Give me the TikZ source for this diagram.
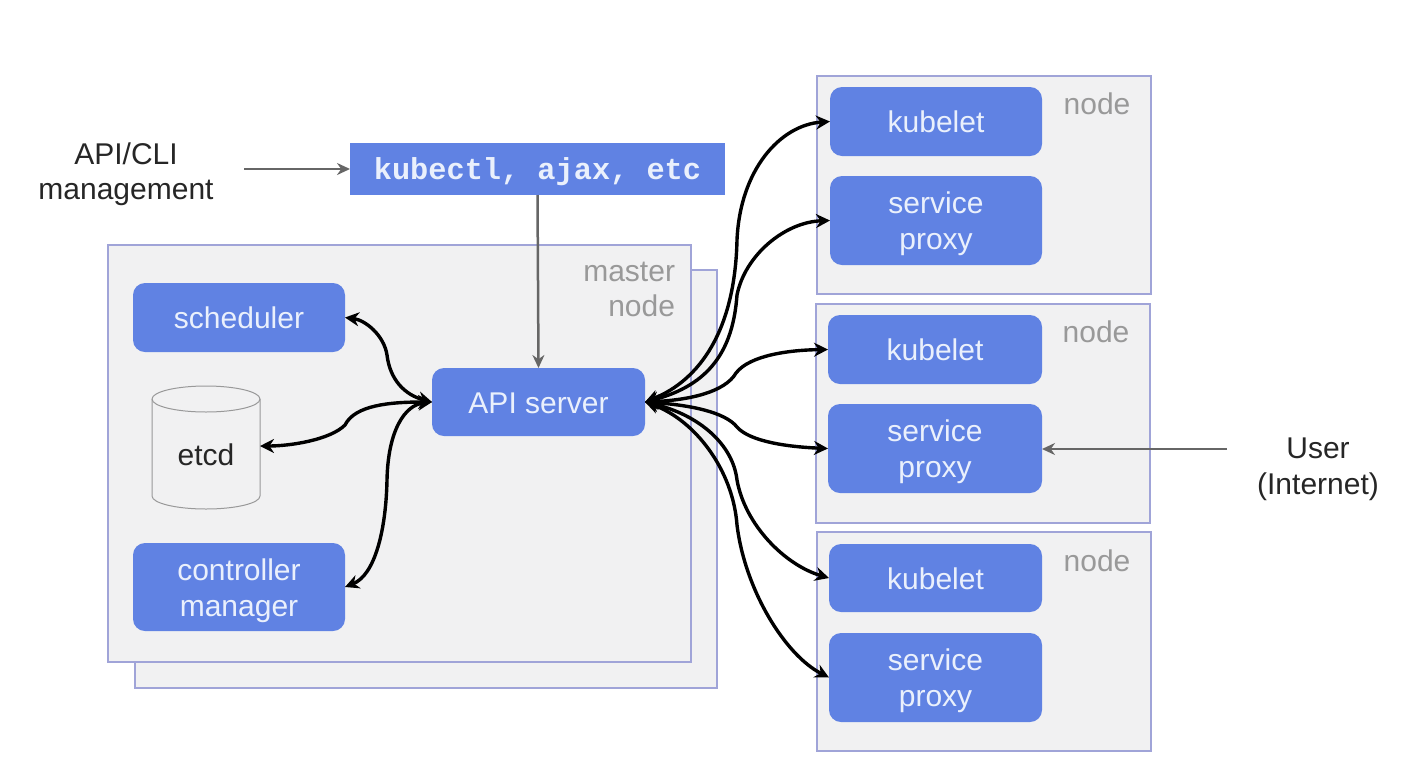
\documentclass[tikz,border=0pt]{standalone}
\usepackage{fontspec}
\setmainfont{Liberation Sans}
\newfontfamily\codefont{Liberation Mono}
\usetikzlibrary{arrows.meta}
\definecolor{boxblue}{HTML}{6082E3}
\definecolor{panel}{HTML}{F1F1F2}
\definecolor{panelline}{HTML}{A0A4D8}
\definecolor{labelgray}{HTML}{999999}
\definecolor{softwhite}{HTML}{EAF0FC}
\definecolor{graylink}{HTML}{666666}
\tikzset{
  every node/.style={inner sep=0pt,outer sep=0pt},
  panelbox/.style={draw=panelline,fill=panel,line width=1.1pt},
  bluebox/.style={fill=boxblue,rounded corners=12pt,text=softwhite,align=center,font=\fontsize{30}{36}\selectfont},
  plain/.style={align=center,text=black!85,font=\fontsize{30}{35.5}\selectfont},
  graytext/.style={text=labelgray,font=\fontsize{30}{35}\selectfont},
  graylinkstyle/.style={draw=graylink,line width=2.5pt,-{Stealth[length=13pt,width=12pt]}},
  curve/.style={draw=black,line width=3.4pt,{Stealth[length=14pt,width=14pt]}-{Stealth[length=14pt,width=14pt]}},
}
\newcommand{\boxat}[6]{\node[#2,minimum width=#5pt-#3pt,minimum height=#6pt-#4pt,anchor=north west] (#1) at (#3,#4) {};}
\newcommand{\blueat}[6]{\node[bluebox,minimum width=#4pt-#2pt,minimum height=#5pt-#3pt,anchor=center] (#1) at ({(#2+#4)/2},{(#3+#5)/2}) {\raisebox{-4pt}[\height][\depth]{\begin{tabular}{@{}c@{}}#6\end{tabular}}};}
\begin{document}
\begin{tikzpicture}[x=1pt,y=-1pt]
\useasboundingbox (0,0) rectangle (1406,772);
% containers
\boxat{masterback}{panelbox}{135}{270}{717}{688}
\boxat{masterfront}{panelbox}{108}{245}{691}{662}
\boxat{nodeA}{panelbox}{817}{76}{1151}{294}
\boxat{nodeB}{panelbox}{816}{304}{1150}{523}
\boxat{nodeC}{panelbox}{817}{532}{1151}{751}
% blue boxes
\blueat{kubA}{830}{87}{1042}{156}{kubelet}
\blueat{proxA}{830}{176}{1042}{265}{service\\proxy}
\blueat{kubB}{828}{315}{1042}{384}{kubelet}
\blueat{proxB}{828}{404}{1042}{493}{service\\proxy}
\blueat{kubC}{829}{544}{1042}{612}{kubelet}
\blueat{proxC}{829}{633}{1042}{722}{service\\proxy}
\blueat{sched}{133}{283}{345}{352}{scheduler}
\blueat{ctrl}{133}{543}{345}{631}{controller\\manager}
\blueat{api}{432}{368}{645}{436}{API server}
\node[fill=boxblue,text=softwhite,minimum width=375pt,minimum height=52pt,anchor=north west,font=\codefont\bfseries\fontsize{30.3}{36}\selectfont] (kubectl) at (350,143) {\raisebox{-3pt}[\height][\depth]{kubectl, ajax, etc}};
% etcd cylinder
\draw[draw=black!40,fill=panel,line width=1pt] (152,399) -- (152,496) arc[x radius=54,y radius=13,start angle=180,end angle=0] -- (260,399) arc[x radius=54,y radius=13,start angle=0,end angle=-180] -- cycle;
\draw[draw=black!40,line width=1pt] (152,399) arc[x radius=54,y radius=13,start angle=180,end angle=0];
\node[minimum width=108pt,minimum height=90pt] (etcd) at (206,446) {};
\node[text=black!85,font=\fontsize{30}{35}\selectfont] (etcdtext) at (206,455) {etcd};
% plain labels
\node[plain] (apicli) at (126,174) {API/CLI\\management};
\node[plain] (user) at (1318,469.5) {User\\(Internet)};
\node[graytext,align=right,anchor=east] (masterlabel) at (675,289) {master\\node};
\node[graytext] (nA) at (1097,104) {node};
\node[graytext] (nB) at (1096,332) {node};
\node[graytext] (nC) at (1097,561) {node};
% gray links
\coordinate (apicliend) at (244,169);
\coordinate (userend) at (1227,449);
\draw[graylinkstyle] (apicliend) -- (kubectl.west |- apicliend);
\draw[graylinkstyle] (kubectl.south) -- (api.north);
\draw[graylinkstyle] (userend) -- (proxB.east |- userend);
% curves right
\draw[curve] (api.east) .. controls (700,380) and (735,330) .. (737,240) .. controls (740,170) and (780,125) .. (kubA.west);
\draw[curve] (api.east) .. controls (710,385) and (733,350) .. (737,295) .. controls (745,255) and (785,222) .. (proxA.west);
\draw[curve] (api.east) .. controls (690,400) and (725,392) .. (736,373) .. controls (750,355) and (790,350) .. (kubB.west);
\draw[curve] (api.east) .. controls (690,405) and (725,412) .. (737,427) .. controls (750,442) and (790,447) .. (proxB.west);
\draw[curve] (api.east) .. controls (700,415) and (733,445) .. (737,480) .. controls (745,525) and (785,565) .. (kubC.west);
\draw[curve] (api.east) .. controls (695,420) and (733,470) .. (737,525) .. controls (745,590) and (785,655) .. (proxC.west);
% curves left
\draw[curve] (api.west) .. controls (405,395) and (390,380) .. (387,355) .. controls (384,335) and (365,320) .. (sched.east);
\draw[curve] (api.west) .. controls (390,402) and (355,405) .. (345,425) .. controls (330,440) and (290,446) .. (etcd.east);
\draw[curve] (api.west) .. controls (405,405) and (388,430) .. (387,480) .. controls (386,530) and (375,575) .. (ctrl.east);
\end{tikzpicture}
\end{document}
